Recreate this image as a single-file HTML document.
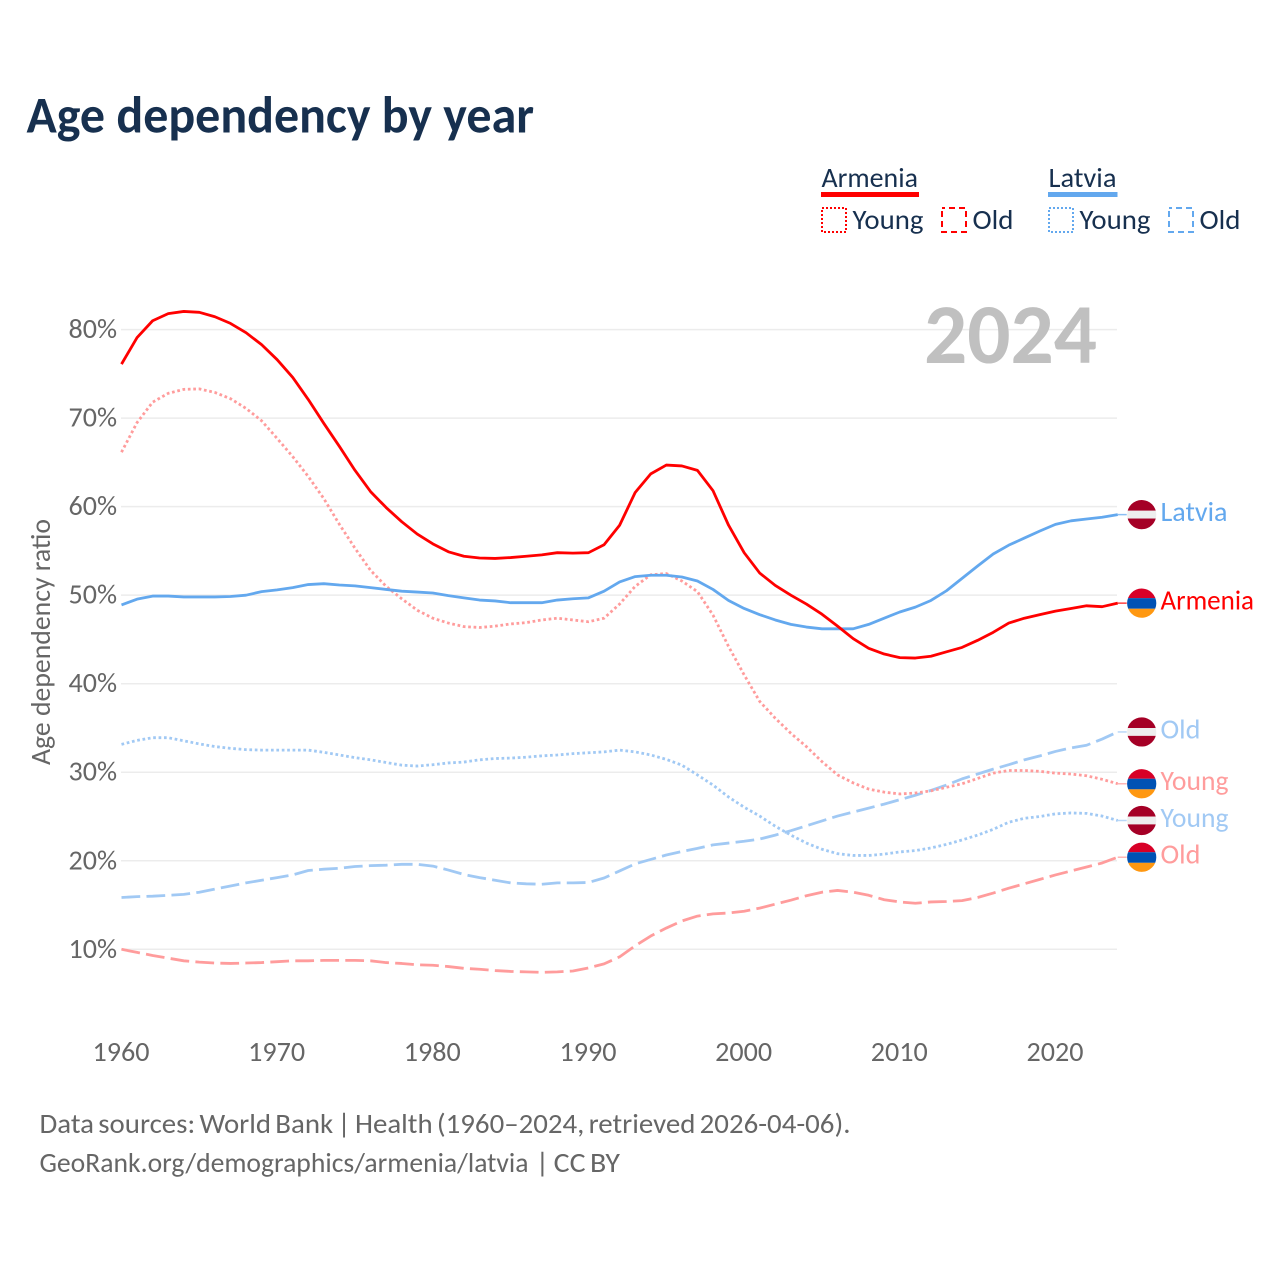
<!DOCTYPE html>
<html lang="en">
<head>
<meta charset="utf-8">
<title>Age dependency by year</title>
<style>
html,body{margin:0;padding:0;background:#fff}
svg{display:block}
text{font-family:"Carlito","Lato","Liberation Sans",sans-serif}
.note{word-spacing:-2.2px}
</style>
</head>
<body>
<svg id="chart" xmlns="http://www.w3.org/2000/svg" width="1280" height="1280" viewBox="0 0 1280 1280">
  <defs>
    <clipPath id="flag-clip"><circle cx="0" cy="0" r="14.6"/></clipPath>
  </defs>
  <text x="26.5" y="132.5" font-size="52" font-weight="700" fill="#17304f" textLength="507.5" lengthAdjust="spacingAndGlyphs">Age dependency by year</text>

  <g>
    <g>
      <text x="821.5" y="187" font-size="28" fill="#17304f" textLength="96.5" lengthAdjust="spacingAndGlyphs">Armenia</text>
      <rect x="821" y="192" width="98" height="5" fill="#ff0000"/>
      <rect x="822" y="208" width="24" height="24" fill="none" stroke="#ff0000" stroke-width="2" stroke-dasharray="2 2"/>
      <text x="852.5" y="229" font-size="28" fill="#17304f" textLength="71" lengthAdjust="spacingAndGlyphs">Young</text>
      <rect x="942" y="208" width="24" height="24" fill="none" stroke="#ff0000" stroke-width="2" stroke-dasharray="6 4" stroke-dashoffset="3"/>
      <text x="972.5" y="229" font-size="28" fill="#17304f" textLength="41" lengthAdjust="spacingAndGlyphs">Old</text>
    </g>
    <g>
      <text x="1048.5" y="187" font-size="28" fill="#17304f" textLength="68" lengthAdjust="spacingAndGlyphs">Latvia</text>
      <rect x="1048" y="192" width="69.5" height="5" fill="#63a8ee"/>
      <rect x="1049" y="208" width="24" height="24" fill="none" stroke="#63a8ee" stroke-width="2" stroke-dasharray="2 2"/>
      <text x="1079.5" y="229" font-size="28" fill="#17304f" textLength="71" lengthAdjust="spacingAndGlyphs">Young</text>
      <rect x="1169" y="208" width="24" height="24" fill="none" stroke="#63a8ee" stroke-width="2" stroke-dasharray="6 4" stroke-dashoffset="3"/>
      <text x="1199.5" y="229" font-size="28" fill="#17304f" textLength="41" lengthAdjust="spacingAndGlyphs">Old</text>
    </g>
  </g>

  <g id="y-grid"></g>
  <g id="x-axis"></g>
  <text transform="translate(50,642) rotate(-90)" text-anchor="middle" font-size="28" fill="#666666" textLength="246" lengthAdjust="spacingAndGlyphs">Age dependency ratio</text>
  <text x="924" y="363" font-size="85" font-weight="700" fill="#c0c0c0" textLength="173" lengthAdjust="spacingAndGlyphs">2024</text>
  <g id="series"></g>
  <g id="end-labels"></g>

  <text class="note" x="39.5" y="1133" font-size="28" fill="#666666" textLength="811" lengthAdjust="spacingAndGlyphs">Data sources: World Bank | Health (1960–2024, retrieved 2026-04-06).</text>
  <text x="39.5" y="1172" font-size="28" fill="#666666" textLength="489" lengthAdjust="spacingAndGlyphs">GeoRank.org/demographics/armenia/latvia</text>
  <text class="note" x="535.5" y="1172" font-size="28" fill="#666666" textLength="84.5" lengthAdjust="spacingAndGlyphs">| CC BY</text>
</svg>
<script>
const years = [1960,1961,1962,1963,1964,1965,1966,1967,1968,1969,1970,1971,1972,1973,1974,1975,1976,1977,1978,1979,1980,1981,1982,1983,1984,1985,1986,1987,1988,1989,1990,1991,1992,1993,1994,1995,1996,1997,1998,1999,2000,2001,2002,2003,2004,2005,2006,2007,2008,2009,2010,2011,2012,2013,2014,2015,2016,2017,2018,2019,2020,2021,2022,2023,2024];
const xTickYears = [1960,1970,1980,1990,2000,2010,2020];
const yTickValues = [10,20,30,40,50,60,70,80];
const armeniaTotal = [76.1,79.1,81.0,81.8,82.05,81.95,81.45,80.7,79.65,78.3,76.6,74.6,72.1,69.4,66.8,64.1,61.7,59.9,58.3,56.9,55.8,54.9,54.4,54.2,54.15,54.25,54.4,54.55,54.8,54.75,54.8,55.7,57.9,61.6,63.7,64.7,64.6,64.1,61.8,57.9,54.8,52.5,51.1,50.0,49.0,47.85,46.5,45.1,44.0,43.35,42.95,42.9,43.1,43.6,44.1,44.9,45.8,46.85,47.4,47.8,48.2,48.5,48.8,48.7,49.1];
const latviaTotal = [48.9,49.55,49.9,49.9,49.8,49.8,49.8,49.85,50.0,50.4,50.6,50.85,51.2,51.3,51.15,51.05,50.85,50.65,50.45,50.35,50.25,49.95,49.7,49.45,49.35,49.15,49.15,49.15,49.45,49.6,49.7,50.45,51.5,52.1,52.25,52.25,52.05,51.6,50.65,49.4,48.5,47.8,47.2,46.7,46.4,46.2,46.2,46.2,46.7,47.4,48.1,48.65,49.4,50.5,51.9,53.3,54.65,55.65,56.45,57.25,58.0,58.4,58.6,58.8,59.1];
const armeniaYoung = [66.15,69.5,71.8,72.8,73.25,73.3,72.9,72.2,71.1,69.7,67.7,65.65,63.4,60.9,58.0,55.3,52.8,51.0,49.6,48.3,47.4,46.85,46.45,46.35,46.5,46.75,46.9,47.2,47.4,47.2,47.0,47.4,49.0,51.0,52.3,52.45,51.6,50.4,47.75,44.2,41.0,38.0,36.1,34.4,32.9,31.2,29.7,28.8,28.1,27.75,27.55,27.65,27.9,28.3,28.7,29.3,29.9,30.2,30.2,30.1,29.9,29.8,29.6,29.2,28.7];
const armeniaOld = [10.0,9.65,9.3,9.0,8.7,8.55,8.45,8.4,8.45,8.5,8.6,8.7,8.7,8.75,8.75,8.75,8.7,8.5,8.4,8.25,8.2,8.05,7.85,7.75,7.6,7.5,7.45,7.4,7.45,7.55,7.9,8.35,9.15,10.4,11.5,12.4,13.2,13.75,14.0,14.1,14.3,14.65,15.1,15.55,16.05,16.45,16.65,16.45,16.1,15.6,15.35,15.2,15.35,15.4,15.5,15.85,16.35,16.9,17.4,17.9,18.4,18.85,19.3,19.75,20.4];
const latviaYoung = [33.15,33.6,33.9,33.9,33.55,33.2,32.9,32.7,32.55,32.5,32.5,32.5,32.5,32.25,31.95,31.65,31.4,31.1,30.8,30.7,30.85,31.05,31.15,31.4,31.55,31.6,31.7,31.85,31.95,32.1,32.2,32.3,32.5,32.3,31.95,31.45,30.8,29.7,28.55,27.2,26.05,25.05,23.9,22.9,22.0,21.3,20.8,20.6,20.6,20.75,21.0,21.15,21.45,21.85,22.35,22.9,23.55,24.35,24.8,25.0,25.3,25.4,25.35,25.05,24.55];
const latviaOld = [15.85,15.95,16.0,16.1,16.2,16.45,16.8,17.15,17.5,17.8,18.1,18.4,18.9,19.05,19.15,19.35,19.45,19.5,19.6,19.6,19.4,18.95,18.45,18.1,17.8,17.5,17.4,17.35,17.5,17.5,17.55,18.05,18.85,19.65,20.15,20.65,21.05,21.4,21.8,22.0,22.2,22.45,22.9,23.4,23.95,24.5,25.05,25.5,25.95,26.4,26.9,27.4,27.95,28.55,29.25,29.8,30.35,30.85,31.4,31.85,32.35,32.75,33.05,33.75,34.55];

const SVG_NS = 'http://www.w3.org/2000/svg';
function xScale(year){ return 121.5 + (year - 1960) * 15.566; }
function yScale(v){ return 949.3 - (v - 10) * 8.853; }
function svgEl(tag, attrs){
  const el = document.createElementNS(SVG_NS, tag);
  for (const k in attrs) el.setAttribute(k, attrs[k]);
  return el;
}

const yGrid = document.getElementById('y-grid');
yTickValues.forEach(function(v){
  const line = svgEl('line', {x1:121, x2:1117, y1:yScale(v), y2:yScale(v), stroke:'#ececec', 'stroke-width':1.5});
  
  
  yGrid.appendChild(line);
  const label = svgEl('text', {x:68.5, y:yScale(v) + 8.5, 'font-size':28, fill:'#666666', textLength:48.5, lengthAdjust:'spacingAndGlyphs'});
  
  
  label.textContent = v + '%';
  yGrid.appendChild(label);
});

const xAxis = document.getElementById('x-axis');
xTickYears.forEach(function(y){
  const label = svgEl('text', {x:xScale(y) - 29, y:1061, 'font-size':28, fill:'#666666', textLength:57, lengthAdjust:'spacingAndGlyphs'});
  
  
  label.textContent = String(y);
  xAxis.appendChild(label);
});

const DOT = '2.7 2.7';
const DASH = '18.75 6.25';
const seriesGroup = document.getElementById('series');
function drawLine(values, name, color, dash){
  let d = '';
  values.forEach(function(v, i){
    d += (i ? 'L' : 'M') + xScale(years[i]).toFixed(2) + ' ' + yScale(v).toFixed(2);
  });
  const path = svgEl('path', {d:d, fill:'none', stroke:color, 'stroke-width':2.8, 'stroke-linejoin':'round'});
  if (dash) path.setAttribute('stroke-dasharray', dash);
  
  
  seriesGroup.appendChild(path);
}
drawLine(armeniaOld, 'line-armenia-old', '#ff9c9c', DASH);
drawLine(latviaOld, 'line-latvia-old', '#a1c9f4', DASH);
drawLine(latviaYoung, 'line-latvia-young', '#a1c9f4', DOT);
drawLine(armeniaYoung, 'line-armenia-young', '#ff9c9c', DOT);
drawLine(latviaTotal, 'line-latvia-total', '#63a8ee', null);
drawLine(armeniaTotal, 'line-armenia-total', '#ff0000', null);

const endGroup = document.getElementById('end-labels');
function drawFlag(g, cy, country){
  const flag = svgEl('g', {transform:'translate(1141.7,' + cy.toFixed(2) + ')', 'clip-path':'url(#flag-clip)'});
  
  
  const bands = country === 'latvia'
    ? [[-15,11.1,'#a50026'],[-3.9,7.8,'#eeeeee'],[3.9,11.1,'#a50026']]
    : [[-15,10,'#d80027'],[-5,10.6,'#0052b4'],[5.6,9.4,'#ff9811']];
  bands.forEach(function(b){
    flag.appendChild(svgEl('rect', {x:-15, y:b[0], width:30, height:b[1], fill:b[2]}));
  });
  g.appendChild(flag);
}
function drawEndLabel(values, series, country, text, color, widthPx){
  const y = yScale(values[values.length - 1]);
  const g = svgEl('g', {});
  
  
  const x0 = xScale(years[years.length - 1]);
  const conn = svgEl('line', {x1:x0, x2:x0 + 9, y1:y, y2:y, stroke:color, 'stroke-width':1.5, 'stroke-opacity':0.75});
  
  
  g.appendChild(conn);
  drawFlag(g, y, country);
  const t = svgEl('text', {x:1160.5, y:y + 6.4, 'font-size':28, fill:color, textLength:widthPx, lengthAdjust:'spacingAndGlyphs'});
  
  
  t.textContent = text;
  g.appendChild(t);
  endGroup.appendChild(g);
}
drawEndLabel(latviaTotal, 'latvia-total', 'latvia', 'Latvia', '#63a8ee', 67);
drawEndLabel(armeniaTotal, 'armenia-total', 'armenia', 'Armenia', '#ff0000', 93.5);
drawEndLabel(latviaOld, 'latvia-old', 'latvia', 'Old', '#a1c9f4', 40);
drawEndLabel(armeniaYoung, 'armenia-young', 'armenia', 'Young', '#ff9c9c', 68);
drawEndLabel(latviaYoung, 'latvia-young', 'latvia', 'Young', '#a1c9f4', 68);
drawEndLabel(armeniaOld, 'armenia-old', 'armenia', 'Old', '#ff9c9c', 40);
</script>
</body>
</html>
